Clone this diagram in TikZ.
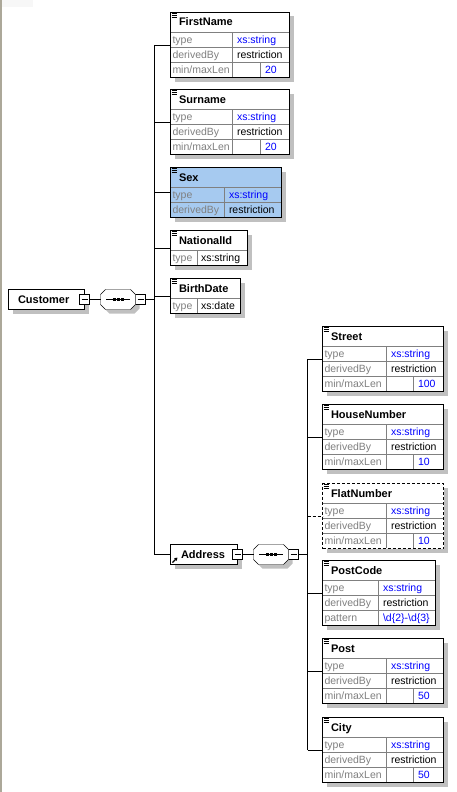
\documentclass[tikz,border=0pt]{standalone}
\usepackage{fontspec}
\setmainfont{Liberation Sans}
\usetikzlibrary{positioning, arrows.meta}
\definecolor{xsdblue}{RGB}{0, 0, 255}
\definecolor{lblgray}{RGB}{128, 128, 128}
\definecolor{gridgray}{RGB}{128, 128, 128}
\definecolor{shadowgray}{RGB}{192, 192, 192}
\definecolor{selblue}{RGB}{166, 202, 240}
\definecolor{framegray}{RGB}{172, 168, 153}
\pgfdeclarelayer{shadow}
\pgfsetlayers{shadow,main}

\begin{document}
\begin{tikzpicture}[
        x=1pt, y=-1pt, line width=1pt,
        elem/.style={draw=black, fill=white, anchor=north west, inner sep=0pt, outer sep=0pt},
        reqbox/.style={},
        optbox/.style={dash pattern=on 3pt off 2pt},
        ttl/.style={font=\fontsize{11}{13}\selectfont\bfseries, anchor=base west, inner sep=0pt},
        lbl/.style={font=\fontsize{10.5}{12}\selectfont, text=lblgray, anchor=base west, inner sep=0pt},
        val/.style={font=\fontsize{10.5}{12}\selectfont, anchor=base west, inner sep=0pt},
        grid/.style={draw=gridgray},
        conn/.style={draw=black},
        shade/.style={fill=shadowgray},
        minus/.style={draw=black, fill=white, minimum size=10pt, inner sep=0pt, outer sep=0pt,
            path picture={\draw ([xshift=2pt]path picture bounding box.west)
                -- ([xshift=-2pt]path picture bounding box.east);}},
        seqbox/.style={minimum width=35pt, minimum height=20pt, inner sep=0pt, outer sep=0pt},
        octa/.style={draw=black, fill=white}
    ]

    \useasboundingbox (0,0) rectangle (456,792);

    % window frame on the left, faint tab at the top
    \fill[framegray] (0,0) rectangle (1.5,792);
    \fill[gray!6] (1.5,0) rectangle (33,7);

    \begin{scope}[shift={(0.5,0.5)}]

    % === ELEMENTS WITH LENGTH RESTRICTION ===
    % name/title/x/y/width/col1/col2/length/kind
    \foreach \nm/\tx/\px/\py/\bw/\ca/\cb/\len/\kind in {
        firstname/FirstName/170/12/119/232/260/20/reqbox,
        surname/Surname/170/89/119/232/260/20/reqbox,
        street/Street/322/326/121/386/413/100/reqbox,
        housenum/HouseNumber/322/404/121/386/413/10/reqbox,
        flatnum/FlatNumber/322/483/121/386/413/10/optbox,
        post/Post/322/638/121/386/413/50/reqbox,
        city/City/322/717/121/386/413/50/reqbox}
    {
        \node[elem, \kind, minimum width=\bw pt, minimum height=65pt] (\nm) at (\px,\py) {};
        \draw (\px+1,\py+1) -- ++(5,0) (\px+1,\py+3) -- ++(5,0) (\px+1,\py+5) -- ++(5,0);
        \node[ttl] (\nm-h) at (\px+8,\py+13.5) {\tx};
        \draw[grid] (\px+0.5,\py+20) -- (\px+\bw-0.5,\py+20)
            (\px+0.5,\py+35) -- (\px+\bw-0.5,\py+35)
            (\px+0.5,\py+50) -- (\px+\bw-0.5,\py+50)
            (\ca,\py+20) -- (\ca,\py+64.5)
            (\cb,\py+50) -- (\cb,\py+64.5);
        \node[lbl] (\nm-l1) at (\px+1.5,\py+31) {type};
        \node[val, text=xsdblue] (\nm-v1) at (\ca+4,\py+31) {xs:string};
        \node[lbl] (\nm-l2) at (\px+1.5,\py+46) {derivedBy};
        \node[val] (\nm-v2) at (\ca+4,\py+46) {restriction};
        \node[lbl] (\nm-l3) at (\px+1.5,\py+61) {min/maxLen};
        \node[val, text=xsdblue] (\nm-v3) at (\cb+4,\py+61) {\len};
    }

    % === SEX (selected) ===
    \node[elem, fill=selblue, minimum width=111pt, minimum height=50pt] (sex) at (170,167) {};
    \draw (171,168) -- ++(5,0) (171,170) -- ++(5,0) (171,172) -- ++(5,0);
    \node[ttl] (sex-h) at (178,180.5) {Sex};
    \draw[grid] (170.5,187) -- (280.5,187) (170.5,202) -- (280.5,202) (224,187) -- (224,216.5);
    \node[lbl] (sex-l1) at (171.5,198) {type};
    \node[val, text=xsdblue] (sex-v1) at (228,198) {xs:string};
    \node[lbl] (sex-l2) at (171.5,213) {derivedBy};
    \node[val] (sex-v2) at (228,213) {restriction};

    % === NATIONALID / BIRTHDATE ===
    \node[elem, minimum width=77pt, minimum height=35pt] (nationalid) at (170,230) {};
    \draw (171,231) -- ++(5,0) (171,233) -- ++(5,0) (171,235) -- ++(5,0);
    \node[ttl] (nationalid-h) at (178,243.5) {NationalId};
    \draw[grid] (170.5,250) -- (246.5,250) (197,250) -- (197,264.5);
    \node[lbl] (nationalid-l1) at (171.5,261) {type};
    \node[val] (nationalid-v1) at (200,261) {xs:string};

    \node[elem, minimum width=70pt, minimum height=35pt] (birthdate) at (170,278) {};
    \draw (171,279) -- ++(5,0) (171,281) -- ++(5,0) (171,283) -- ++(5,0);
    \node[ttl] (birthdate-h) at (178,291.5) {BirthDate};
    \draw[grid] (170.5,298) -- (239.5,298) (197,298) -- (197,312.5);
    \node[lbl] (birthdate-l1) at (171.5,309) {type};
    \node[val] (birthdate-v1) at (200,309) {xs:date};

    % === POSTCODE (pattern) ===
    \node[elem, minimum width=113pt, minimum height=65pt] (postcode) at (322,560) {};
    \draw (323,561) -- ++(5,0) (323,563) -- ++(5,0) (323,565) -- ++(5,0);
    \node[ttl] (postcode-h) at (330,573.5) {PostCode};
    \draw[grid] (322.5,580) -- (434.5,580) (322.5,595) -- (434.5,595)
        (322.5,610) -- (434.5,610) (378,580) -- (378,624.5);
    \node[lbl] (postcode-l1) at (323.5,591) {type};
    \node[val, text=xsdblue] (postcode-v1) at (382,591) {xs:string};
    \node[lbl] (postcode-l2) at (323.5,606) {derivedBy};
    \node[val] (postcode-v2) at (382,606) {restriction};
    \node[lbl] (postcode-l3) at (323.5,621) {pattern};
    \node[val, text=xsdblue] (postcode-v3) at (382,621)
        {\textbackslash d\{2\}-\textbackslash d\{3\}};

    % === CUSTOMER ===
    \node[elem, minimum width=76pt, minimum height=20pt] (customer) at (8,289) {};
    \node[ttl] (customer-t) at (17,303) {Customer};
    \node[minus] (customer-m) at (84,299) {};
    \node[seqbox] (customer-seq) at (117.5,299) {};
    \node[minus] (customer-sm) at (140,299) {};

    % === ADDRESS ===
    \node[elem, minimum width=67pt, minimum height=20pt] (address) at (170,544) {};
    \node[ttl] (address-t) at (180,558) {Address};
    \draw[-{Triangle[length=3pt, width=3.5pt]}, line width=1.2pt] (172,562) -- (177,557);
    \node[minus] (address-m) at (237,554) {};
    \node[seqbox] (address-seq) at (270.5,554) {};
    \node[minus] (address-sm) at (293,554) {};

    % drop shadows behind the element boxes
    \begin{pgfonlayer}{shadow}
        \foreach \nm in {firstname, surname, sex, nationalid, birthdate, street, housenum,
            flatnum, postcode, post, city, customer, address}
            \fill[shade] ([shift={(4,4)}]\nm.north west) rectangle ([shift={(4.5,4.5)}]\nm.south east);
    \end{pgfonlayer}

    % sequence compositors (octagon with ---)
    \foreach \nm in {customer-seq, address-seq} {
        \begin{pgfonlayer}{shadow}
            \fill[shade] ([shift={(4,4)}]\nm.west) -- ++(0,-5) -- ++(5,-5) -- ++(25,0) -- ++(5,5)
                -- ++(0,10) -- ++(-5,5) -- ++(-25,0) -- ++(-5,-5) -- cycle;
        \end{pgfonlayer}
        \draw[octa] (\nm.west) -- ++(0,-5) -- ++(5,-5) -- ++(25,0) -- ++(5,5)
            -- ++(0,10) -- ++(-5,5) -- ++(-25,0) -- ++(-5,-5) -- cycle;
        \draw ([xshift=-12pt]\nm.center) -- ([xshift=12pt]\nm.center);
        \foreach \dx in {-4,0,4}
            \fill ([shift={(\dx-1.5,-1.5)}]\nm.center) rectangle ++(3,3);
    }

    % === CONNECTORS ===
    \coordinate (trunk) at (154,0);
    \coordinate (subtrunk) at (307,0);

    \draw[conn] (customer-m) -- (customer-seq);
    \draw[conn] (customer-seq) -- (customer-sm);
    \draw[conn] (customer-sm) -- (customer-sm -| trunk);
    \draw[conn] (firstname.west -| trunk) -- (address.west -| trunk);
    \foreach \nm in {firstname, surname, sex, nationalid, birthdate, address}
        \draw[conn] (\nm.west -| trunk) -- (\nm.west);

    \draw[conn] (address-m) -- (address-seq);
    \draw[conn] (address-seq) -- (address-sm);
    \draw[conn] (address-sm) -- (address-sm -| subtrunk);
    \draw[conn] (street.west -| subtrunk) -- (city.west -| subtrunk);
    \foreach \nm/\kind in {street/reqbox, housenum/reqbox, flatnum/optbox,
        postcode/reqbox, post/reqbox, city/reqbox}
        \draw[conn, \kind] (\nm.west -| subtrunk) -- (\nm.west);

    \end{scope}

\end{tikzpicture}
\end{document}
